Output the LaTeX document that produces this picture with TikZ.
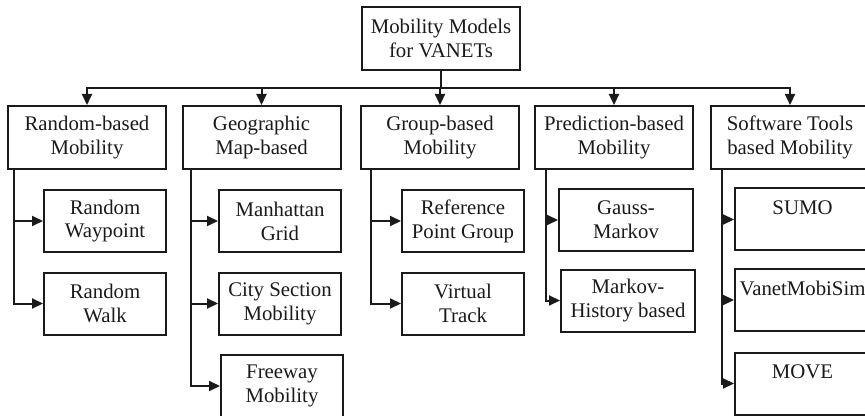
\documentclass[tikz,border=0pt]{standalone}
\usepackage{fontspec}
\setmainfont{Liberation Serif}
\usepackage{tikz}
\usetikzlibrary{arrows.meta, positioning, calc}
\definecolor{inkgray}{HTML}{1A1A1A}

\begin{document}
\begin{tikzpicture}[x=0.5pt, y=-0.5pt, font=\fontsize{10.4}{11.9}\selectfont, line width=1pt]
    \tikzstyle{cat} = [rectangle, draw=inkgray, line width=1pt, minimum width=79pt, minimum height=31.5pt, inner sep=1pt, align=center, text=inkgray]
    \tikzstyle{leaf} = [cat, minimum width=61pt, minimum height=31pt]
    \tikzstyle{tool} = [leaf, minimum width=67.5pt]
    \tikzstyle{arrow} = [-{Triangle[length=5.5pt, width=5pt]}, inkgray]

    \useasboundingbox (0,0) rectangle (865,416);

    % top and first level
    \node (root) [cat] at (441,38.5) {Mobility Models\\for VANETs};
    \node (random) [cat] at (87,137.5) {Random-based\\Mobility};
    \node (geo) [cat] at (261.5,137.5) {Geographic\\Map-based};
    \node (group) [cat] at (440,137.5) {Group-based\\Mobility};
    \node (predict) [cat] at (614,137.5) {Prediction-based\\Mobility};
    \node (tools) [cat] at (790,137.5) {Software Tools\\based Mobility};

    % second level
    \node (rwp) [leaf] at (105,221) {Random\\Waypoint};
    \node (rwalk) [leaf] at (105,303.5) {Random\\Walk};
    \node (manhattan) [leaf] at (280,221) {Manhattan\\Grid};
    \node (city) [leaf] at (280,303.5) {City Section\\Mobility};
    \node (freeway) [leaf] at (282,386) {Freeway\\Mobility};
    \node (rpgm) [leaf] at (463,221) {Reference\\Point Group};
    \node (vtrack) [leaf] at (463,303.5) {Virtual\\Track};
    \node (gauss) [leaf, minimum width=67pt] at (626,220) {Gauss-\\Markov};
    \node (mhist) [leaf, minimum width=67pt] at (628,300.5) {Markov-\\History based};
    \node (sumo) [tool] at (802.5,219.5) {SUMO\\~};
    \node (vms) [tool] at (802.5,300) {VanetMobiSim\\~};
    \node (move) [tool] at (802.5,383.5) {MOVE\\~};

    \coordinate (split) at ([yshift=-8.5pt]root.south);
    \foreach \c in {random, geo, group, predict, tools}
      \draw [arrow] (root.south) -- (split) -| (\c.north);

    \foreach \p/\c/\s in {random/rwp/3.5, random/rwalk/3.5,
                          geo/manhattan/4.5, geo/city/4.5, geo/freeway/4.5,
                          group/rpgm/5.5, group/vtrack/5.5,
                          predict/gauss/6, predict/mhist/6,
                          tools/sumo/6, tools/vms/6, tools/move/6}
      \draw [arrow] ([xshift=\s pt]\p.south west) |- (\c.west);
\end{tikzpicture}
\end{document}
